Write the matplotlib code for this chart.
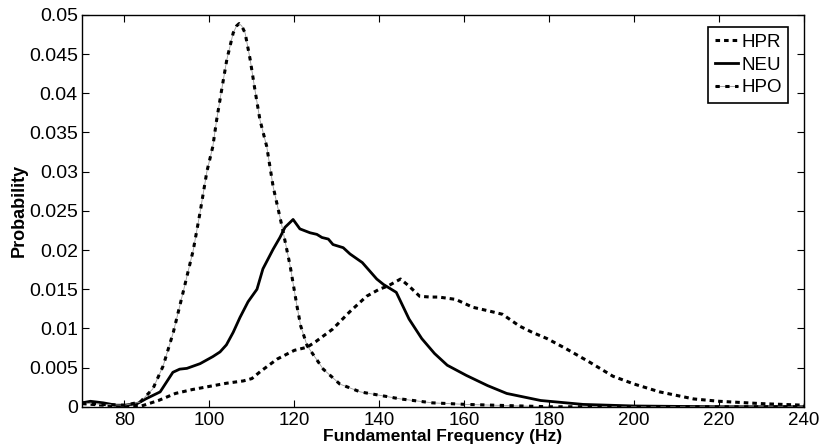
import matplotlib
matplotlib.use('Agg')
import matplotlib.pyplot as plt
from matplotlib.legend_handler import HandlerTuple

plt.rcParams['font.family'] = ['Liberation Sans', 'DejaVu Sans']

# pitch distributions
hpr_f = [70, 75, 80, 84, 88, 92, 96, 100, 104, 108, 110, 112, 116, 120, 123, 125, 129, 133, 137,
         140, 142, 145, 147, 149.5, 152, 154, 158, 162, 166, 169, 173, 176, 179.5, 184, 189.5,
         195, 200, 206, 214, 220, 230, 240]
hpr_p = [0.0004, 0.0002, 0.0001, 0.0001, 0.0008, 0.0017, 0.0022, 0.0026, 0.003, 0.0033, 0.0036,
         0.0045, 0.0061, 0.0072, 0.0076, 0.0083, 0.0099, 0.0121, 0.0141, 0.015, 0.0154, 0.0163,
         0.0154, 0.0141, 0.014, 0.014, 0.0137, 0.0127, 0.0122, 0.0118, 0.0103, 0.0095, 0.0087,
         0.0074, 0.0057, 0.0039, 0.0029, 0.0019, 0.001, 0.0007, 0.0004, 0.0002]

neu_f = [70, 72, 75, 78, 80, 83, 85, 88.4, 91.4, 93, 94.7, 97.8, 100.8, 102.5, 104, 105.6, 107.2,
         109.1, 111.2, 112.6, 115, 116.6, 117.8, 119.7, 121.3, 123.7, 125.3, 126.5, 128, 129.1,
         131.5, 133.1, 136, 139.4, 141, 144, 147, 150, 153, 156, 160.5, 165.5, 170, 178, 188,
         200, 220, 240]
neu_p = [0.0005, 0.0007, 0.0005, 0.0002, 0.0002, 0.0004, 0.001, 0.0019, 0.0044, 0.0048, 0.0049,
         0.0055, 0.0064, 0.007, 0.0079, 0.0095, 0.0114, 0.0134, 0.015, 0.0176, 0.0201, 0.0216,
         0.0229, 0.0239, 0.0227, 0.0222, 0.022, 0.0216, 0.0214, 0.0207, 0.0203, 0.0195, 0.0184,
         0.0163, 0.0156, 0.0146, 0.0112, 0.0087, 0.0068, 0.0053, 0.004, 0.0027, 0.0017, 0.0008,
         0.0003, 0.0001, 0.0, 0.0]

hpo_f = [70, 75, 80, 83.7, 86.7, 89.1, 91.5, 93.8, 96.2, 97.8, 99.4, 100.8, 101.7, 102.9, 104.1,
         105.6, 106.4, 107, 107.6, 108.4, 109.6, 110.7, 111.9, 113.5, 115, 117.1, 119, 120.6,
         121.5, 123, 126.8, 130.7, 135.5, 145, 152.5, 160.5, 180, 240]
hpo_p = [0.0005, 0.0003, 0.0002, 0.0006, 0.0023, 0.0052, 0.0095, 0.0146, 0.02, 0.0248, 0.030,
         0.0332, 0.0366, 0.0405, 0.0443, 0.0477, 0.0486, 0.0489, 0.0486, 0.0477, 0.0443, 0.0405,
         0.0366, 0.0332, 0.0281, 0.023, 0.018, 0.0129, 0.0103, 0.0078, 0.0048, 0.0029, 0.0019,
         0.001, 0.0005, 0.0003, 0.0, 0.0]

fig = plt.figure(figsize=(8.2, 4.47), dpi=100)
ax = fig.add_axes([0.1, 0.09, 0.8805, 0.8766])

l1, = ax.plot(hpr_f, hpr_p, color='black', lw=2.2, linestyle=(0, (1.5, 1.3)))
l2, = ax.plot(neu_f, neu_p, color='black', lw=2.0, linestyle='-')
# dash-dot style: faint thin line under thick dashes
l3a, = ax.plot(hpo_f, hpo_p, color='#9a9a9a', lw=0.6, linestyle='-')
l3b, = ax.plot(hpo_f, hpo_p, color='black', lw=2.2, linestyle=(0, (1.4, 1.8)))

ax.set_xlim(70, 240)
ax.set_ylim(0, 0.05)
ax.set_xticks([80, 100, 120, 140, 160, 180, 200, 220, 240])
ax.set_yticks([0, 0.005, 0.01, 0.015, 0.02, 0.025, 0.03, 0.035, 0.04, 0.045, 0.05])
ax.set_yticklabels(['0', '0.005', '0.01', '0.015', '0.02', '0.025', '0.03', '0.035',
                    '0.04', '0.045', '0.05'])
ax.tick_params(direction='in', top=True, right=True, length=5, width=0.8, labelsize=14)
ax.tick_params(axis='x', labelsize=13.5, pad=4)
ax.tick_params(axis='y', pad=3)
for s in ax.spines.values():
    s.set_linewidth(1.0)

ax.set_xlabel('Fundamental Frequency (Hz)', fontsize=12.5, fontweight='bold', labelpad=0)
ax.set_ylabel('Probability', fontsize=13, fontweight='bold', labelpad=1)

leg = ax.legend([l1, l2, (l3a, l3b)], ['HPR', 'NEU', 'HPO'],
                handler_map={tuple: HandlerTuple(ndivide=1, pad=0)},
                loc='upper right', bbox_to_anchor=(0.978, 0.969), fontsize=13.5,
                handlelength=1.25, handletextpad=0.15, borderpad=0.35, labelspacing=0.3,
                fancybox=False, framealpha=1, borderaxespad=0)
leg.get_frame().set_edgecolor('black')
leg.get_frame().set_linewidth(1.2)

fig.savefig('out.png', dpi=100)
